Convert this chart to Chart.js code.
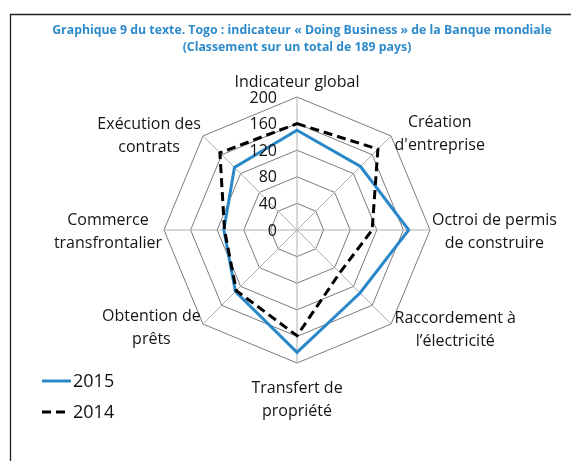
<!DOCTYPE html>
<html>
<head>
<meta charset="utf-8">
<script src="https://cdn.jsdelivr.net/npm/chart.js@4/dist/chart.umd.min.js"></script>
<style>
html,body{margin:0;padding:0;background:#fff;}
#wrap{position:relative;width:571px;height:461px;}
canvas{display:block;}
</style>
</head>
<body>
<div id="wrap"><canvas id="c" width="571" height="461"></canvas></div>
<script>
const titleLines = ["Graphique 9 du texte. Togo : indicateur « Doing Business » de la Banque mondiale", "(Classement sur un total de 189 pays)"];
const categories = [
  ["Indicateur global"],
  ["Création", "d'entreprise"],
  ["Octroi de permis", "de construire"],
  ["Raccordement à", "l’électricité"],
  ["Transfert de", "propriété"],
  ["Obtention de", "prêts"],
  ["Commerce", "transfrontalier"],
  ["Exécution des", "contrats"]
];
const series2015 = [150, 135, 168, 134, 184, 131, 110, 133];
const series2014 = [160, 172, 113, 91, 159, 129, 109, 164];
const tickValues = [0, 40, 80, 120, 160, 200];

const FONT = "'Open Sans', 'Noto Sans', sans-serif";

const framePlugin = {
  id: 'frame',
  beforeDraw(chart) {
    const ctx = chart.ctx;
    ctx.save();
    ctx.fillStyle = '#fff';
    ctx.fillRect(0, 0, chart.width, chart.height);
    ctx.strokeStyle = '#222';
    ctx.lineWidth = 1.3;
    ctx.beginPath();
    ctx.moveTo(10.5, chart.height);
    ctx.lineTo(10.5, 14.5);
    ctx.lineTo(chart.width, 14.5);
    ctx.stroke();
    // title
    ctx.fillStyle = '#2E8BCB';
    ctx.font = "bold 12.3px " + FONT;
    ctx.textAlign = 'center';
    ctx.textBaseline = 'middle';
    ctx.fillText(titleLines[0], 302, 30);
    ctx.fillText(titleLines[1], 297, 47);
    ctx.restore();
  }
};

const labelsPlugin = {
  id: 'radarLabels',
  afterDraw(chart) {
    const s = chart.scales.r;
    const ctx = chart.ctx;
    const R = s.drawingArea;
    const pads = [5, 5, 2, 5, 12, 3, 2, 3];
    const lh = 23;
    ctx.save();
    ctx.font = "16px " + FONT;
    ctx.fillStyle = '#151515';
    ctx.textBaseline = 'middle';
    ctx.textAlign = 'center';
    chart.data.labels.forEach((lab, i) => {
      const lines = Array.isArray(lab) ? lab : [lab];
      const p = s.getPointPosition(i, R + pads[i]);
      const w = Math.max(...lines.map(l => ctx.measureText(l).width));
      const h = lines.length * lh;
      let cx, top;
      if (i === 0) { cx = p.x; top = p.y - h; }
      else if (i === 4) { cx = p.x; top = p.y; }
      else if (i < 4) { cx = p.x + w / 2; top = p.y - h / 2; }
      else { cx = p.x - w / 2; top = p.y - h / 2; }
      lines.forEach((l, k) => ctx.fillText(l, cx, top + lh * k + lh / 2 + 2));
    });
    // tick labels
    ctx.font = "16px " + FONT;
    ctx.fillStyle = '#111';
    ctx.textAlign = 'right';
    tickValues.forEach(v => {
      const d = s.getDistanceFromCenterForValue(v);
      ctx.fillText(String(v), s.xCenter - 20, s.yCenter - d + 1);
    });
    // legend
    ctx.font = "18px " + FONT;
    ctx.textAlign = 'left';
    const legendY = [381, 412];
    chart.data.datasets.forEach((ds, k) => {
      const y = legendY[k];
      ctx.save();
      ctx.strokeStyle = ds.borderColor;
      ctx.lineWidth = 3;
      ctx.setLineDash(ds.borderDash || []);
      ctx.beginPath();
      ctx.moveTo(42, y);
      ctx.lineTo(ds.borderDash ? 68 : 71, y);
      ctx.stroke();
      ctx.restore();
      ctx.fillStyle = '#111';
      ctx.fillText(ds.label, 73, y + 1);
    });
    ctx.restore();
  }
};

new Chart(document.getElementById('c'), {
  type: 'radar',
  data: {
    labels: categories,
    datasets: [
      { label: '2015', data: series2015, borderColor: '#2B88C8', borderWidth: 3, fill: false, pointRadius: 0, order: 2, tension: 0 },
      { label: '2014', data: series2014, borderColor: '#000000', borderWidth: 3, borderDash: [9, 5], fill: false, pointRadius: 0, order: 1, tension: 0 }
    ]
  },
  options: {
    responsive: false,
    animation: false,
    devicePixelRatio: 1,
    layout: { padding: { left: 163.6, right: 140.6, top: 97.3, bottom: 96.9 } },
    plugins: { legend: { display: false }, title: { display: false }, tooltip: { enabled: false } },
    elements: { line: { borderJoinStyle: 'miter' } },
    scales: {
      r: {
        min: 0, max: 200,
        ticks: { stepSize: 40, display: false },
        pointLabels: { display: false },
        grid: { circular: false, color: 'rgba(0,0,0,0.75)', lineWidth: 0.7 },
        angleLines: { display: true, color: '#b0b0b0', lineWidth: 1 }
      }
    }
  },
  plugins: [framePlugin, labelsPlugin]
});
</script>
</body>
</html>
